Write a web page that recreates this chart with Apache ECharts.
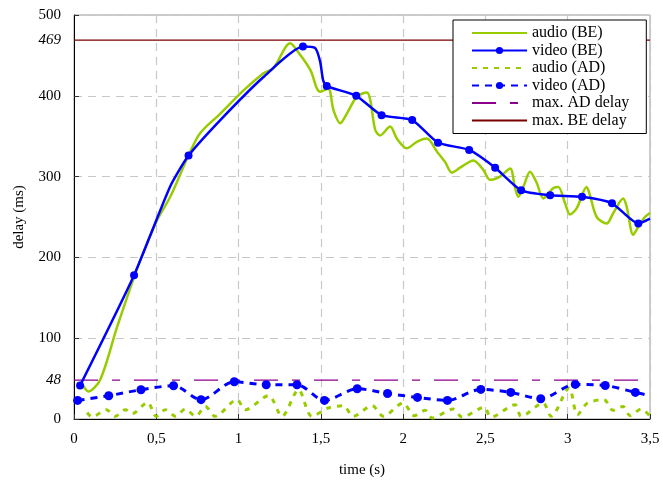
<!DOCTYPE html>
<html>
<head>
<meta charset="utf-8">
<title>delay</title>
<script src="https://cdn.jsdelivr.net/npm/echarts@6/dist/echarts.min.js"></script>
<style>
  html, body { margin: 0; padding: 0; background: #fff; }
  #chart { width: 663px; height: 486px; }
</style>
</head>
<body>
<div id="chart"></div>
<script>
// audio (BE)
let audioBETime = [0.057, 0.087, 0.16, 0.262, 0.403, 0.505, 0.585, 0.757, 0.889, 1.032, 1.152, 1.211, 1.314, 1.355, 1.436, 1.476, 1.496, 1.545, 1.577, 1.618, 1.658, 1.719, 1.78, 1.8, 1.83, 1.86, 1.921, 1.962, 2.022, 2.083, 2.144, 2.205, 2.255, 2.296, 2.346, 2.427, 2.488, 2.528, 2.589, 2.65, 2.68, 2.7, 2.73, 2.771, 2.812, 2.852, 2.913, 2.943, 2.984, 3.014, 3.055, 3.115, 3.135, 3.176, 3.237, 3.277, 3.337, 3.358, 3.398, 3.429, 3.469, 3.5]
let audioBEDelay = [41, 34, 49, 114, 197, 246, 275, 351, 378, 407, 428, 434, 465, 456, 432, 409, 405, 409, 382, 366, 378, 399, 404, 395, 358, 351, 362, 347, 335, 343, 347, 331, 318, 305, 311, 320, 308, 296, 300, 310, 286, 275, 287, 306, 292, 273, 286, 287, 267, 253, 261, 287, 277, 250, 242, 255, 273, 263, 228, 238, 250, 255]

// video (BE), marked = 1 where a dot is drawn
let videoBETime = [0.037, 0.365, 0.585, 0.696, 0.889, 1.15, 1.391, 1.466, 1.496, 1.514, 1.536, 1.715, 1.869, 2.055, 2.212, 2.401, 2.559, 2.717, 2.893, 3.087, 3.269, 3.429, 3.5]
let videoBEDelay = [41.5, 178, 288, 326, 370, 423, 461, 459, 442, 419, 412, 400, 376, 370, 342, 333, 311, 283, 277, 275, 267, 242, 248]
let videoBEMarked = [1, 1, 0, 1, 0, 0, 1, 0, 0, 0, 1, 1, 1, 1, 1, 1, 1, 1, 1, 1, 1, 1, 0]

// audio (AD)
let audioADTime = [0.08, 0.11, 0.197, 0.25, 0.312, 0.353, 0.447, 0.5, 0.555, 0.617, 0.676, 0.739, 0.798, 0.858, 0.99, 1.041, 1.182, 1.264, 1.364, 1.446, 1.545, 1.636, 1.696, 1.812, 1.879, 2.0, 2.067, 2.134, 2.176, 2.304, 2.358, 2.492, 2.534, 2.68, 2.717, 2.85, 2.899, 3.008, 3.059, 3.12, 3.22, 3.275, 3.336, 3.379, 3.446, 3.5]
let audioADDelay = [8, 2.4, 11.5, 3.3, 11.5, 6.6, 20.6, 3.3, 11.5, 3.3, 12.3, 3.3, 15.6, 3.3, 23.9, 11.5, 28.8, 3.3, 36.2, 3.3, 13.6, 16.5, 3.3, 16.5, 3.3, 19.8, 4.1, 10.7, 1.2, 12.3, 2.4, 14.4, 2.4, 17.7, 3.3, 19.8, 3.3, 38.3, 5.3, 19.8, 23.9, 10.7, 15.6, 4.1, 12.3, 3.3]

// video (AD)
let videoADTime = [0.022, 0.211, 0.407, 0.605, 0.772, 0.974, 1.168, 1.355, 1.522, 1.721, 1.905, 2.087, 2.269, 2.472, 2.654, 2.836, 3.046, 3.228, 3.411, 3.5]
let videoADDelay = [23, 28.8, 36.2, 41.2, 23.9, 46.1, 42.4, 42.4, 23, 37.4, 31.6, 26.7, 23, 36.6, 32.9, 25.1, 42.8, 41.5, 32.9, 29]
let videoADMarked = [1, 1, 1, 1, 1, 1, 1, 1, 1, 1, 1, 1, 1, 1, 1, 1, 1, 1, 1, 0]

// limits
let limitTime = [0, 3.5]
let maxADDelay = 48
let maxBEDelay = 469

let seriesNames = ['audio (BE)', 'video (BE)', 'audio (AD)', 'video (AD)', 'max. AD delay', 'max. BE delay']
let seriesHasDots = [false, true, false, true, false, false]

const serif = 'Liberation Serif, Times New Roman, serif'

function pairs (xs, ys, marked) {
  return xs.map((x, i) => {
    let item = { value: [x, ys[i]] }
    if (marked && !marked[i]) {
      item.symbol = 'none'
    }
    return item
  })
}

// first point carries the italic value label left of the y axis
function limitData (value) {
  return limitTime.map((x, i) => {
    let item = { value: [x, value] }
    if (i === 0) {
      item.symbol = 'circle'
      item.symbolSize = 0
      item.label = {
        show: true,
        position: 'left',
        distance: 13,
        formatter: String(value),
        fontFamily: serif,
        fontStyle: 'italic',
        fontSize: 15,
        color: '#000'
      }
    }
    return item
  })
}

let myChart = echarts.init(document.getElementById('chart'))

let option = {
  animation: false,
  textStyle: {
    fontFamily: serif
  },
  grid: {
    left: 74,
    right: 13,
    top: 15,
    bottom: 67,
    show: true,
    borderColor: '#999',
    borderWidth: 1,
    outerBoundsMode: 'none'
  },
  legend: {
    orient: 'vertical',
    left: 453,
    top: 20,
    padding: [5, 17, 5, 18],
    itemWidth: 55,
    itemHeight: 9,
    itemGap: 1.5,
    borderColor: '#000',
    borderWidth: 1,
    backgroundColor: '#fff',
    textStyle: {
      fontFamily: serif,
      fontSize: 16,
      color: '#000'
    },
    data: seriesNames.map((name, i) => {
      return seriesHasDots[i] ? { name: name } : { name: name, itemStyle: { opacity: 0 } }
    })
  },
  xAxis: {
    type: 'value',
    min: 0,
    max: 3.5,
    interval: 0.5,
    name: 'time (s)',
    nameLocation: 'middle',
    nameGap: 44,
    nameTextStyle: {
      fontFamily: serif,
      fontSize: 15,
      color: '#000'
    },
    axisLine: {
      lineStyle: {
        color: '#000',
        width: 1
      }
    },
    axisTick: {
      inside: true,
      length: 5,
      lineStyle: {
        color: '#333'
      }
    },
    axisLabel: {
      margin: 13,
      fontFamily: serif,
      fontSize: 15,
      color: '#000',
      formatter: function (v) {
        return String(v).replace('.', ',')
      }
    },
    splitLine: {
      lineStyle: {
        color: '#c8c8c8',
        type: [8, 6],
        width: 1.2
      }
    }
  },
  yAxis: {
    type: 'value',
    min: 0,
    max: 500,
    interval: 100,
    name: 'delay (ms)',
    nameLocation: 'middle',
    nameGap: 47,
    nameTextStyle: {
      fontFamily: serif,
      fontSize: 15,
      color: '#000'
    },
    axisLine: {
      show: true,
      lineStyle: {
        color: '#000',
        width: 1
      }
    },
    axisTick: {
      show: true,
      inside: true,
      length: 5,
      lineStyle: {
        color: '#333'
      }
    },
    axisLabel: {
      margin: 13,
      fontFamily: serif,
      fontSize: 15,
      color: '#000'
    },
    splitLine: {
      lineStyle: {
        color: '#c8c8c8',
        type: [8, 6],
        width: 1.2
      }
    }
  },
  series: [
    {
      name: seriesNames[0],
      type: 'line',
      data: pairs(audioBETime, audioBEDelay),
      symbol: 'none',
      smooth: 0.3,
      lineStyle: { color: '#99cc00', width: 2.5 },
      itemStyle: { color: '#99cc00' },
      z: 2
    },
    {
      name: seriesNames[1],
      type: 'line',
      data: pairs(videoBETime, videoBEDelay, videoBEMarked),
      symbol: 'circle',
      symbolSize: 8,
      showAllSymbol: true,
      smooth: 0.2,
      lineStyle: { color: '#0000ff', width: 2.5 },
      itemStyle: { color: '#0000ff' },
      z: 3
    },
    {
      name: seriesNames[2],
      type: 'line',
      data: pairs(audioADTime, audioADDelay),
      symbol: 'none',
      smooth: 0.3,
      lineStyle: { color: '#99cc00', width: 3, type: [5, 6] },
      itemStyle: { color: '#99cc00' },
      z: 2
    },
    {
      name: seriesNames[3],
      type: 'line',
      data: pairs(videoADTime, videoADDelay, videoADMarked),
      symbol: 'circle',
      symbolSize: 9,
      showAllSymbol: true,
      smooth: 0.3,
      lineStyle: { color: '#0000ff', width: 3, type: [7, 6] },
      itemStyle: { color: '#0000ff' },
      z: 3
    },
    {
      name: seriesNames[4],
      type: 'line',
      data: limitData(maxADDelay),
      symbol: 'none',
      lineStyle: { color: '#8b008b', width: 1.3, type: [24, 14, 8, 14] },
      itemStyle: { color: '#8b008b' },
      z: 1
    },
    {
      name: seriesNames[5],
      type: 'line',
      data: limitData(maxBEDelay),
      symbol: 'none',
      lineStyle: { color: '#7a0000', width: 1.3 },
      itemStyle: { color: '#7a0000' },
      z: 1
    }
  ]
}

myChart.setOption(option)
</script>
</body>
</html>
